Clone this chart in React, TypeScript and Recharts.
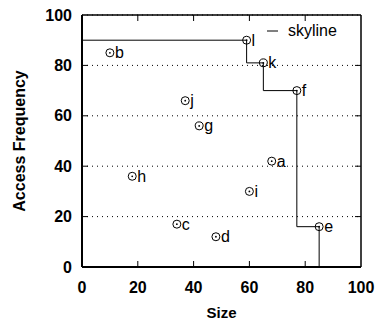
import React from 'react';
import { ComposedChart, Scatter, Line, XAxis, YAxis, CartesianGrid, Legend, ReferenceLine } from 'recharts';

// points
const names = ['a', 'b', 'c', 'd', 'e', 'f', 'g', 'h', 'i', 'j', 'k', 'l'];
const sizes = [68, 10, 34, 48, 85, 77, 42, 18, 60, 37, 65, 59];
const freqs = [42, 85, 17, 12, 16, 70, 56, 36, 30, 66, 81, 90];

// skyline corners (step after)
const skySizes = [0, 59, 65, 77, 85];
const skyFreqs = [90, 81, 70, 16, 0];

const xTicks = [0, 20, 40, 60, 80, 100];
const yTicks = [0, 20, 40, 60, 80, 100];

const points = names.map((n, i) => ({ name: n, x: sizes[i], y: freqs[i] }));
const skyline = skySizes.map((s, i) => ({ x: s, y: skyFreqs[i] }));

const FONT = '"Liberation Sans", Arial, Helvetica, sans-serif';

const W = 377;
const H = 320;
const M = { top: 15, right: 16, left: 0, bottom: 0 };
const Y_AXIS_W = 82;
const X_AXIS_H = 53;
const PLOT_W = W - M.left - M.right - Y_AXIS_W;
const PLOT_H = H - M.top - M.bottom - X_AXIS_H;
const TICK = 6;
// tick length in data units
const TX = (100 * TICK) / PLOT_W;
const TY = (100 * TICK) / PLOT_H;

const inner = (v: number) => v > 0 && v < 100;

const PointMark = (props: any) => {
  const { cx, cy, payload } = props;
  return (
    <g>
      <circle cx={cx} cy={cy} r={4} fill="none" stroke="#000" strokeWidth={1} />
      <circle cx={cx} cy={cy} r={0.9} fill="#000" />
      <text x={cx + 5} y={cy} dominantBaseline="central" fontSize={16} fill="#000" fontFamily={FONT}>
        {payload.name}
      </text>
    </g>
  );
};

const LegendBox = ({ payload }: any) => (
  <div style={{ fontFamily: FONT, fontSize: 16, color: '#000', lineHeight: '16px' }}>
    {(payload || [])
      .filter((p: any) => p.type !== 'none' && p.value === 'skyline')
      .map((p: any) => (
        <div key={p.value} style={{ display: 'flex', alignItems: 'center' }}>
          <svg width={21} height={10}>
            <line x1={0} y1={5} x2={11} y2={5} stroke="#000" strokeWidth={1} />
          </svg>
          <span>{p.value}</span>
        </div>
      ))}
  </div>
);

const tickStyle = { fontSize: 16, fontWeight: 'bold', fill: '#000', fontFamily: FONT };
const frame = { stroke: '#000', strokeWidth: 1.5 };

export default function App() {
  return (
    <div style={{ position: 'absolute', left: 0, top: 0, background: '#fff' }}>
      <ComposedChart width={W} height={H} margin={M} style={{ fontFamily: FONT }}>
        <CartesianGrid xAxisId="b" yAxisId="l" vertical={false} stroke="#000" strokeDasharray="1 4" />
        {/* top and right frame lines */}
        <XAxis xAxisId="t" orientation="top" mirror type="number" domain={[0, 100]} ticks={xTicks}
          allowDataOverflow height={1} axisLine={frame} tickLine={false} tick={false} />
        <YAxis yAxisId="r" orientation="right" mirror type="number" domain={[0, 100]} ticks={yTicks}
          allowDataOverflow width={1} axisLine={frame} tickLine={false} tick={false} />
        <XAxis
          xAxisId="b"
          type="number"
          dataKey="x"
          domain={[0, 100]}
          ticks={xTicks}
          allowDataOverflow
          interval={0}
          height={X_AXIS_H}
          tickSize={0}
          tickMargin={15}
          axisLine={{ stroke: '#000', strokeWidth: 2 }}
          tickLine={false}
          tick={tickStyle}
          label={{ value: 'Size', position: 'insideBottom', offset: 2, style: { fontSize: 15, fontWeight: 'bold', fill: '#000', fontFamily: FONT } }}
        />
        <YAxis
          yAxisId="l"
          type="number"
          dataKey="y"
          domain={[0, 100]}
          ticks={yTicks}
          allowDataOverflow
          interval={0}
          width={Y_AXIS_W}
          tickSize={0}
          tickMargin={10}
          axisLine={{ stroke: '#000', strokeWidth: 2 }}
          tickLine={false}
          tick={tickStyle}
          label={{ value: 'Access Frequency', angle: -90, position: 'insideLeft', offset: 19, style: { textAnchor: 'middle', fontSize: 16, fontWeight: 'bold', fill: '#000', fontFamily: FONT } }}
        />
        {/* inward tick marks on all four sides */}
        {xTicks.filter(inner).map((v) => (
          <ReferenceLine key={`xb${v}`} xAxisId="b" yAxisId="l" ifOverflow="visible"
            segment={[{ x: v, y: 0 }, { x: v, y: TY }]} stroke="#000" strokeWidth={1} />
        ))}
        {xTicks.filter(inner).map((v) => (
          <ReferenceLine key={`xt${v}`} xAxisId="b" yAxisId="l" ifOverflow="visible"
            segment={[{ x: v, y: 100 }, { x: v, y: 100 - TY }]} stroke="#000" strokeWidth={1} />
        ))}
        {yTicks.filter(inner).map((v) => (
          <ReferenceLine key={`yl${v}`} xAxisId="b" yAxisId="l" ifOverflow="visible"
            segment={[{ x: 0, y: v }, { x: TX, y: v }]} stroke="#000" strokeWidth={1} />
        ))}
        {yTicks.filter(inner).map((v) => (
          <ReferenceLine key={`yr${v}`} xAxisId="b" yAxisId="l" ifOverflow="visible"
            segment={[{ x: 100, y: v }, { x: 100 - TX, y: v }]} stroke="#000" strokeWidth={1} />
        ))}
        <Legend
          layout="vertical"
          align="center"
          verticalAlign="middle"
          content={<LegendBox />}
          wrapperStyle={{ position: 'absolute', top: 23, left: 267, width: 90 }}
        />
        <Line
          xAxisId="b"
          yAxisId="l"
          data={skyline}
          dataKey="y"
          name="skyline"
          type="stepAfter"
          stroke="#000"
          strokeWidth={1}
          dot={false}
          isAnimationActive={false}
        />
        <Scatter
          xAxisId="b"
          yAxisId="l"
          data={points}
          dataKey="y"
          name="points"
          legendType="none"
          shape={<PointMark />}
          isAnimationActive={false}
        />
      </ComposedChart>
    </div>
  );
}
